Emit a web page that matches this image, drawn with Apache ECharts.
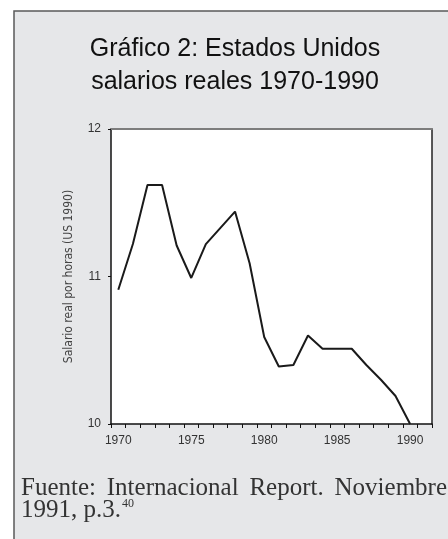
<!DOCTYPE html>
<html>
<head>
<meta charset="utf-8">
<script src="https://cdn.jsdelivr.net/npm/echarts@6/dist/echarts.min.js"></script>
<style>
  html, body { margin: 0; padding: 0; background: #fff; }
  #chart { width: 448px; height: 539px; }
</style>
</head>
<body>
<div id="chart"></div>
<script>
// años (1991 solo para el margen derecho del eje)
const years = ['1970', '1971', '1972', '1973', '1974', '1975', '1976', '1977', '1978', '1979',
  '1980', '1981', '1982', '1983', '1984', '1985', '1986', '1987', '1988', '1989', '1990', '1991'];
// salario real por horas (US 1990)
const wages = [10.91, 11.22, 11.62, 11.62, 11.21, 10.99, 11.22, 11.33, 11.44, 11.09,
  10.59, 10.39, 10.40, 10.60, 10.51, 10.51, 10.51, 10.40, 10.30, 10.19, 10.00, null];
const yTicks = [10, 11, 12];
const sourceWords = ['Fuente:', 'Internacional', 'Report.', 'Noviembre'];

const chart = echarts.init(document.getElementById('chart'));
const sans = '"Liberation Sans", Arial, sans-serif';
const serifFont = '25px "Liberation Serif", "Times New Roman", serif';

// fuente justificada entre x0 y x1
function justifiedWords(words, x0, x1, y) {
  const ctx = document.createElement('canvas').getContext('2d');
  ctx.font = serifFont;
  const widths = words.map(w => ctx.measureText(w).width);
  const total = widths.reduce((a, b) => a + b, 0);
  const gap = (x1 - x0 - total) / (words.length - 1);
  let x = x0;
  return words.map((w, i) => {
    const el = {
      type: 'text', x: x, y: y, z: 5, silent: true,
      style: { text: w, font: serifFont, fill: '#333', textAlign: 'left', textVerticalAlign: 'middle' }
    };
    x += widths[i] + gap;
    return el;
  });
}

const option = {
  backgroundColor: '#fff',
  animation: false,
  graphic: [
    {
      type: 'rect', z: -10, silent: true,
      shape: { x: 14, y: 11, width: 460, height: 560 },
      style: { fill: '#e6e7e9', stroke: '#5a5a5a', lineWidth: 1.5 }
    },
    {
      type: 'rect', z: -5, silent: true,
      shape: { x: 111, y: 129, width: 321, height: 295 },
      style: { fill: '#fff' }
    },
    {
      type: 'text', x: 235, y: 33, z: 5, silent: true,
      style: {
        text: 'Gráfico 2: Estados Unidos\nsalarios reales 1970-1990',
        font: '25px "Liberation Sans", Arial, sans-serif',
        fill: '#111', textAlign: 'center', textVerticalAlign: 'top', lineHeight: 33
      }
    },
    ...justifiedWords(sourceWords, 21, 447, 488),
    {
      type: 'text', x: 21, y: 510, z: 5, silent: true,
      style: {
        text: '{a|1991, p.3.}{s|40}',
        textVerticalAlign: 'middle',
        rich: {
          a: { font: serifFont, fill: '#333' },
          s: { font: '12px "Liberation Serif", serif', fill: '#333', padding: [0, 0, 13, 1] }
        }
      }
    }
  ],
  grid: { left: 111, right: 16, top: 129, bottom: 115 },
  xAxis: [
    {
      type: 'category',
      data: years,
      boundaryGap: true,
      axisLine: { lineStyle: { color: '#111', width: 1.5 } },
      axisTick: { show: true, interval: 0, length: 4, lineStyle: { color: '#111' } },
      axisLabel: {
        interval: (i) => i % 5 === 0,
        color: '#333', fontSize: 12, fontFamily: sans, margin: 11
      },
      splitLine: { show: false }
    },
    {
      type: 'category',
      data: years,
      position: 'top',
      axisLine: { lineStyle: { color: '#7d7d7d', width: 2 } },
      axisTick: { show: false },
      axisLabel: { show: false }
    }
  ],
  yAxis: [
    {
      type: 'value',
      min: yTicks[0], max: yTicks[yTicks.length - 1], interval: 1,
      name: 'Salario real por horas (US 1990)',
      nameLocation: 'middle',
      nameGap: 36,
      nameTextStyle: { color: '#444', fontSize: 12, fontFamily: '"Liberation Sans Narrow", "DejaVu Sans Condensed", sans-serif' },
      axisLine: { show: true, lineStyle: { color: '#111', width: 1.5 } },
      axisTick: { show: true, length: 3, lineStyle: { color: '#111' } },
      axisLabel: { color: '#333', fontSize: 12, fontFamily: sans, margin: 10 },
      splitLine: { show: false }
    },
    {
      type: 'value',
      min: yTicks[0], max: yTicks[yTicks.length - 1], interval: 1,
      position: 'right',
      axisLine: { show: true, lineStyle: { color: '#222', width: 1.5 } },
      axisTick: { show: false },
      axisLabel: { show: false },
      splitLine: { show: false }
    }
  ],
  series: [
    {
      type: 'line',
      data: wages,
      symbol: 'none',
      lineStyle: { color: '#1a1a1a', width: 2 },
      clip: true
    }
  ]
};

chart.setOption(option);
</script>
</body>
</html>
